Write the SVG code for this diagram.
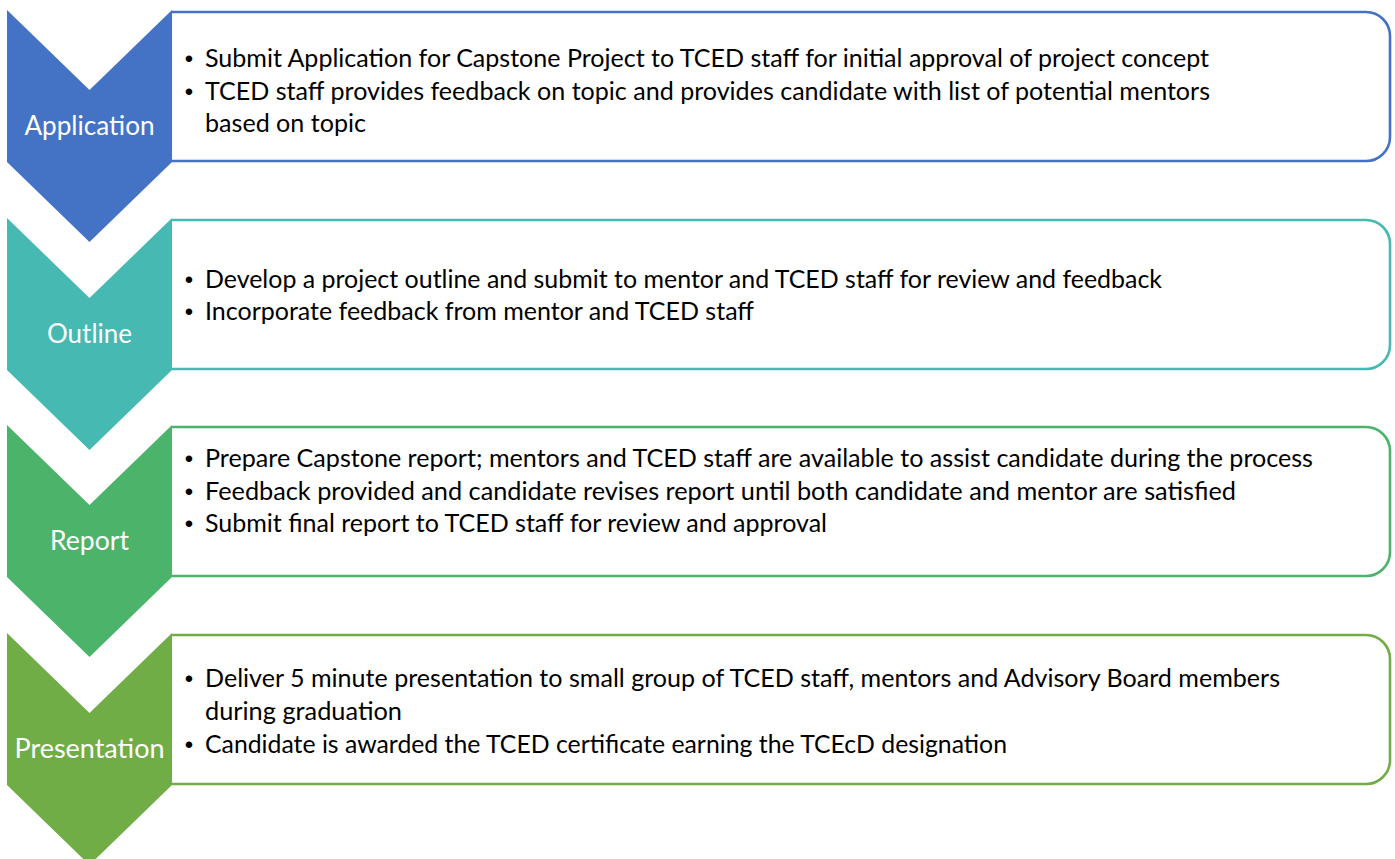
<svg xmlns="http://www.w3.org/2000/svg" width="1395" height="859" viewBox="0 0 1395 859">
  <style>
    .box { fill: #ffffff; stroke-width: 2.6; }
    .item { font-family: Lato, "Open Sans", "Liberation Sans", sans-serif; font-size: 25px; fill: #000000; }
    .bullet { font-family: "Liberation Sans", Lato, sans-serif; font-size: 24px; fill: #000000; text-anchor: middle; }
    .label { font-family: Lato, "Open Sans", "Liberation Sans", sans-serif; font-size: 26px; fill: #ffffff; text-anchor: middle; }
    .s1 { fill: #4472C4; } .b1 { stroke: #4472C4; }
    .s2 { fill: #45B9B2; } .b2 { stroke: #45B9B2; }
    .s3 { fill: #4BB46A; } .b3 { stroke: #4BB46A; }
    .s4 { fill: #70AD47; } .b4 { stroke: #70AD47; }
  </style>

  <!-- Step 1: Application -->
  <g id="step-application">
    <path class="box b1" d="M172,12 H1366 A24,24 0 0 1 1390,36 V137 A24,24 0 0 1 1366,161 H172"/>
    <polygon class="s1" points="7,10 89.5,90 172,10 172,162 89.5,242 7,162"/>
    <text class="label" x="89.5" y="135" textLength="130" lengthAdjust="spacingAndGlyphs">Application</text>
    <text class="bullet" x="189" y="67">•</text>
    <text class="item" x="205" y="67" textLength="1004" lengthAdjust="spacingAndGlyphs">Submit Application for Capstone Project to TCED staff for initial approval of project concept</text>
    <text class="bullet" x="189" y="100">•</text>
    <text class="item" x="205" y="100" textLength="1005" lengthAdjust="spacingAndGlyphs">TCED staff provides feedback on topic and provides candidate with list of potential mentors</text>
    <text class="item" x="205" y="132" textLength="161" lengthAdjust="spacingAndGlyphs">based on topic</text>
  </g>

  <!-- Step 2: Outline -->
  <g id="step-outline">
    <path class="box b2" d="M172,220 H1366 A24,24 0 0 1 1390,244 V345 A24,24 0 0 1 1366,369 H172"/>
    <polygon class="s2" points="7,218 89.5,298 172,218 172,370 89.5,450 7,370"/>
    <text class="label" x="89.5" y="343" textLength="85" lengthAdjust="spacingAndGlyphs">Outline</text>
    <text class="bullet" x="189" y="288">•</text>
    <text class="item" x="205" y="288" textLength="957" lengthAdjust="spacingAndGlyphs">Develop a project outline and submit to mentor and TCED staff for review and feedback</text>
    <text class="bullet" x="189" y="320">•</text>
    <text class="item" x="205" y="320" textLength="549" lengthAdjust="spacingAndGlyphs">Incorporate feedback from mentor and TCED staff</text>
  </g>

  <!-- Step 3: Report -->
  <g id="step-report">
    <path class="box b3" d="M172,427 H1366 A24,24 0 0 1 1390,451 V552 A24,24 0 0 1 1366,576 H172"/>
    <polygon class="s3" points="7,425 89.5,505 172,425 172,577 89.5,657 7,577"/>
    <text class="label" x="89.5" y="550" textLength="79" lengthAdjust="spacingAndGlyphs">Report</text>
    <text class="bullet" x="189" y="467">•</text>
    <text class="item" x="205" y="467" textLength="1108" lengthAdjust="spacingAndGlyphs">Prepare Capstone report; mentors and TCED staff are available to assist candidate during the process</text>
    <text class="bullet" x="189" y="500">•</text>
    <text class="item" x="205" y="500" textLength="1031" lengthAdjust="spacingAndGlyphs">Feedback provided and candidate revises report until both candidate and mentor are satisfied</text>
    <text class="bullet" x="189" y="532">•</text>
    <text class="item" x="205" y="532" textLength="622" lengthAdjust="spacingAndGlyphs">Submit final report to TCED staff for review and approval</text>
  </g>

  <!-- Step 4: Presentation -->
  <g id="step-presentation">
    <path class="box b4" d="M172,635 H1366 A24,24 0 0 1 1390,659 V760 A24,24 0 0 1 1366,784 H172"/>
    <polygon class="s4" points="7,633 89.5,713 172,633 172,785 89.5,865 7,785"/>
    <text class="label" x="89.5" y="758" textLength="150" lengthAdjust="spacingAndGlyphs">Presentation</text>
    <text class="bullet" x="189" y="687">•</text>
    <text class="item" x="205" y="687" textLength="1075" lengthAdjust="spacingAndGlyphs">Deliver 5 minute presentation to small group of TCED staff, mentors and Advisory Board members</text>
    <text class="item" x="205" y="720" textLength="197" lengthAdjust="spacingAndGlyphs">during graduation</text>
    <text class="bullet" x="189" y="753">•</text>
    <text class="item" x="205" y="753" textLength="802" lengthAdjust="spacingAndGlyphs">Candidate is awarded the TCED certificate earning the TCEcD designation</text>
  </g>

  <!-- no connectors: the chevrons carry the flow -->
  <g id="connectors"/>
</svg>
